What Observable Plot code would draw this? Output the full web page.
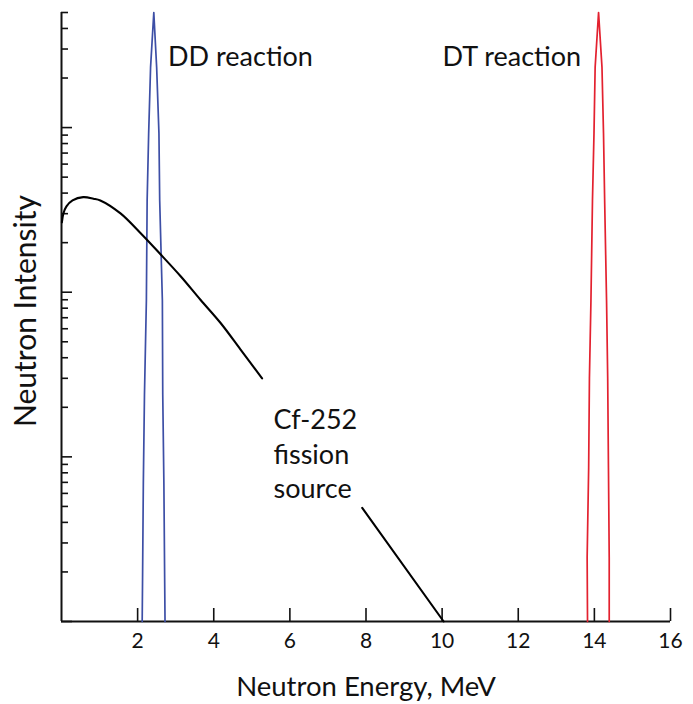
<!DOCTYPE html>
<html>
<head>
<meta charset="utf-8">
<script src="https://cdn.jsdelivr.net/npm/d3@7"></script>
<script src="https://cdn.jsdelivr.net/npm/@observablehq/plot@0.6"></script>
<style>html,body{margin:0;padding:0;background:#fff;}</style>
</head>
<body>
<script>
// ---- Axis ticks ----
const xTicks = [2, 4, 6, 8, 10, 12, 14, 16];
const yMajorTicks = [1, 10, 100, 1000];
const yMinorTicks = [2, 3, 4, 5, 6, 7, 8, 9, 20, 30, 40, 50, 60, 70, 80, 90,
  200, 300, 400, 500, 600, 700, 800, 900, 2000, 3000, 4000, 5000];

// ---- Cf-252 fission spectrum (two visible parts, broken by its label) ----
const cfEnergy    = [0.01, 0.05, 0.13, 0.29, 0.57, 0.84, 1.02, 1.55, 2.08, 2.60, 3.13, 3.65, 4.18, 4.70, 5.27, 7.90, 10.04];
const cfIntensity = [266, 301, 332, 361, 378, 370, 361, 301, 228, 170, 125, 90, 65, 45, 30, 4.9, 1.0];
const cfPart      = [1, 1, 1, 1, 1, 1, 1, 1, 1, 1, 1, 1, 1, 1, 1, 2, 2];

// ---- DD reaction peak ----
const ddEnergy    = [2.12, 2.13, 2.15, 2.18, 2.23, 2.25, 2.29, 2.34, 2.425, 2.50, 2.56, 2.58, 2.65, 2.66, 2.69, 2.71, 2.72];
const ddIntensity = [1, 1.85, 6.9, 24, 89, 361, 922, 2320, 5000, 2320, 922, 361, 89, 24, 6.9, 1.85, 1];

// ---- DT reaction peak ----
const dtEnergy    = [13.82, 13.81, 13.85, 13.87, 13.91, 13.95, 13.99, 14.02, 14.11, 14.20, 14.24, 14.27, 14.32, 14.35, 14.37, 14.39, 14.39];
const dtIntensity = [1, 2.45, 8.6, 30, 89, 361, 922, 2320, 5000, 2320, 922, 361, 89, 30, 8.6, 2.45, 1];

// ---- Annotations ----
const labelText      = ["DD reaction", "DT reaction", "Cf-252\nfission\nsource"];
const labelEnergy    = [2.80, 10.01, 5.57];
const labelIntensity = [2750, 2750, 10.6];

const xTitle = "Neutron Energy, MeV";
const yTitle = "Neutron Intensity";

// build tables
const cf = cfEnergy.map((e, i) => ({e, v: cfIntensity[i], part: cfPart[i]}));
const dd = ddEnergy.map((e, i) => ({e, v: ddIntensity[i]}));
const dt = dtEnergy.map((e, i) => ({e, v: dtIntensity[i]}));
const labels = labelText.map((t, i) => ({t, e: labelEnergy[i], v: labelIntensity[i]}));

const W = 693, H = 704, mL = 61, mR = 23, mT = 12, mB = 83;
const fw = W - mL - mR, fh = H - mT - mB;

const chart = Plot.plot({
  width: W,
  height: H,
  marginLeft: mL,
  marginRight: mR,
  marginTop: mT,
  marginBottom: mB,
  style: {fontFamily: "Lato, sans-serif", fontSize: "21px", color: "#111", background: "#fff", overflow: "visible"},
  x: {domain: [0, 16], ticks: xTicks, tickSize: 0, tickPadding: 12, label: null, tickFormat: d => String(d)},
  y: {type: "log", domain: [1, 5000], axis: null},
  marks: [
    Plot.ruleX([0], {stroke: "#111", strokeWidth: 2}),
    Plot.ruleY([1], {stroke: "#111", strokeWidth: 2}),
    Plot.tickX(xTicks, {x: d => d, insetTop: fh - 13, stroke: "#111", strokeWidth: 1.6}),
    Plot.tickY(yMajorTicks, {y: d => d, insetRight: fw - 11, stroke: "#111", strokeWidth: 1.6}),
    Plot.tickY(yMinorTicks, {y: d => d, insetRight: fw - 7, stroke: "#111", strokeWidth: 1.6}),
    Plot.line(dd, {x: "e", y: "v", stroke: "#3d4fa6", strokeWidth: 1.7}),
    Plot.line(dt, {x: "e", y: "v", stroke: "#e3212f", strokeWidth: 1.7}),
    Plot.line(cf, {x: "e", y: "v", z: "part", curve: "catmull-rom", stroke: "#000", strokeWidth: 2.1}),
    Plot.text(labels, {x: "e", y: "v", text: "t", textAnchor: "start", lineAnchor: "middle", fontSize: 27, lineHeight: 1.27, fill: "#111"}),
    Plot.text([xTitle], {text: d => d, frameAnchor: "bottom", textAnchor: "middle", lineAnchor: "middle", dy: 66, fontSize: 27.5, fill: "#111"}),
    Plot.text([yTitle], {text: d => d, frameAnchor: "left", textAnchor: "middle", lineAnchor: "middle", rotate: -90, dx: -35, dy: -6, fontSize: 30, fill: "#111"})
  ]
});
document.body.appendChild(chart);
</script>
</body>
</html>
